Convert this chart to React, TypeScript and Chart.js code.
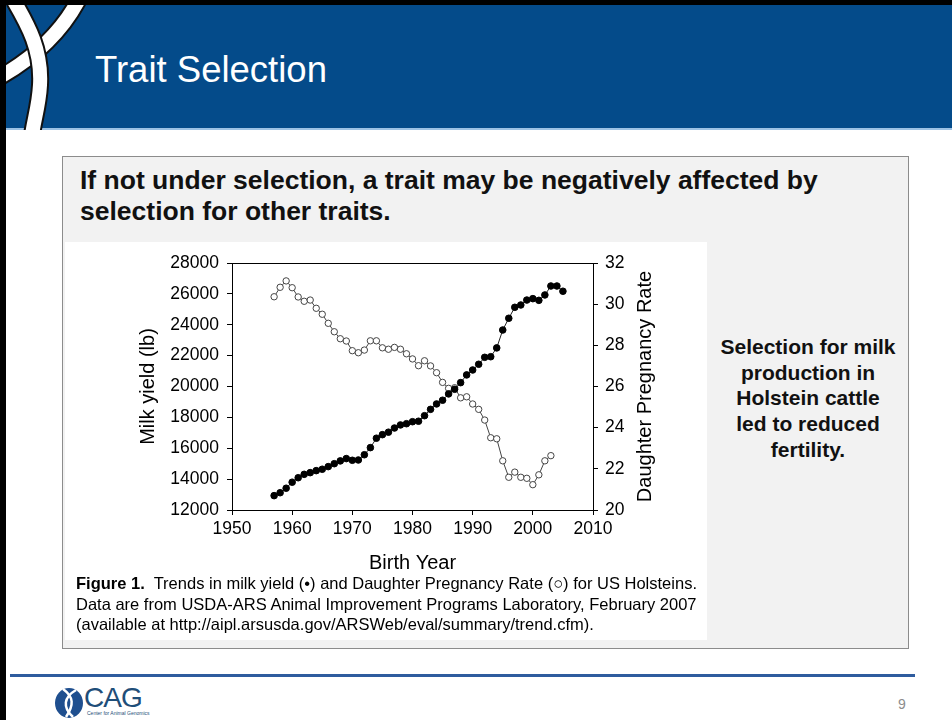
import React, { useEffect, useRef } from "react";
import { Chart, registerables } from "chart.js";

Chart.register(...registerables);

// ---- Data ----
const milkYears = [
  1957, 1958, 1959, 1960, 1961, 1962, 1963, 1964, 1965, 1966,
  1967, 1968, 1969, 1970, 1971, 1972, 1973, 1974, 1975, 1976,
  1977, 1978, 1979, 1980, 1981, 1982, 1983, 1984, 1985, 1986,
  1987, 1988, 1989, 1990, 1991, 1992, 1993, 1994, 1995, 1996,
  1997, 1998, 1999, 2000, 2001, 2002, 2003, 2004, 2005,
];
const milkYield = [
  12930, 13120, 13410, 13800, 14090, 14310, 14420, 14550, 14640, 14810,
  15000, 15180, 15330, 15220, 15240, 15580, 16040, 16650, 16880, 17040,
  17310, 17510, 17590, 17720, 17750, 18110, 18520, 18870, 19110, 19520,
  19820, 20250, 20750, 21070, 21440, 21890, 21930, 22500, 23660, 24420,
  25130, 25280, 25600, 25690, 25580, 25930, 26510, 26510, 26170,
];
const dprYears = [
  1957, 1958, 1959, 1960, 1961, 1962, 1963, 1964, 1965, 1966,
  1967, 1968, 1969, 1970, 1971, 1972, 1973, 1974, 1975, 1976,
  1977, 1978, 1979, 1980, 1981, 1982, 1983, 1984, 1985, 1986,
  1987, 1988, 1989, 1990, 1991, 1992, 1993, 1994, 1995, 1996,
  1997, 1998, 1999, 2000, 2001, 2002, 2003,
];
const dprRate = [
  30.36, 30.82, 31.13, 30.8, 30.35, 30.14, 30.2, 29.8, 29.51, 29.07,
  28.66, 28.32, 28.21, 27.74, 27.64, 27.77, 28.22, 28.22, 27.88, 27.81,
  27.9, 27.81, 27.59, 27.34, 27.01, 27.25, 27.0, 26.67, 26.2, 25.91,
  25.94, 25.45, 25.5, 25.15, 24.89, 24.37, 23.51, 23.46, 22.39, 21.59,
  21.84, 21.59, 21.54, 21.23, 21.71, 22.39, 22.64,
];
const xTicks = { min: 1950, max: 2010, step: 10 };
const milkTicks = { min: 12000, max: 28000, step: 2000 };
const dprTicks = { min: 20, max: 32, step: 2 };
const rightTitle = "Daughter Pregnancy Rate";

const FONT = '"Liberation Sans", Arial, Helvetica, sans-serif';

const framePlugin = {
  id: "topFrame",
  afterDraw(chart: any) {
    const { ctx, chartArea } = chart;
    ctx.save();
    ctx.strokeStyle = "#000";
    ctx.lineWidth = 1;
    ctx.beginPath();
    ctx.moveTo(chartArea.left, Math.round(chartArea.top) + 0.5);
    ctx.lineTo(chartArea.right, Math.round(chartArea.top) + 0.5);
    ctx.stroke();
    // right-axis title, reading bottom-to-top like the reference
    const s = chart.scales.y1;
    ctx.translate(s.right - 12, (chartArea.top + chartArea.bottom) / 2);
    ctx.rotate(-Math.PI / 2);
    ctx.fillStyle = "#000";
    ctx.font = `20px ${FONT}`;
    ctx.textAlign = "center";
    ctx.textBaseline = "middle";
    ctx.fillText(rightTitle, 0, 0);
    ctx.restore();
  },
};

function TrendChart() {
  const ref = useRef<HTMLCanvasElement | null>(null);
  useEffect(() => {
    if (!ref.current) return;
    const tickFont = { family: FONT, size: 17.5 };
    const titleFont = { family: FONT, size: 20 };
    const chart = new Chart(ref.current, {
      type: "scatter",
      data: {
        datasets: [
          {
            label: "Milk yield (lb)",
            data: milkYears.map((x, i) => ({ x, y: milkYield[i] })),
            yAxisID: "y",
            showLine: true,
            borderColor: "#222",
            borderWidth: 1,
            pointRadius: 3.3,
            pointBorderWidth: 1,
            pointBackgroundColor: "#000",
            pointBorderColor: "#000",
          },
          {
            label: "Daughter Pregnancy Rate",
            data: dprYears.map((x, i) => ({ x, y: dprRate[i] })),
            yAxisID: "y1",
            showLine: true,
            borderColor: "#444",
            borderWidth: 1,
            pointRadius: 3.2,
            pointBorderWidth: 1,
            pointBackgroundColor: "#fff",
            pointBorderColor: "#444",
          },
        ],
      },
      options: {
        animation: false,
        responsive: false,
        devicePixelRatio: 1,
        layout: { padding: { left: 71, right: 50, top: 21, bottom: 0 } },
        plugins: { legend: { display: false }, tooltip: { enabled: false } },
        scales: {
          x: {
            type: "linear",
            position: "bottom",
            min: xTicks.min,
            max: xTicks.max,
            ticks: {
              stepSize: xTicks.step,
              color: "#000",
              font: tickFont,
              padding: 4,
              maxRotation: 0,
              callback: (v: any) => String(v),
            },
            grid: { drawOnChartArea: false, drawTicks: true, tickLength: 5, color: "#000" },
            border: { display: true, color: "#000", width: 1 },
            title: {
              display: true,
              text: "Birth Year",
              color: "#000",
              font: titleFont,
              padding: { top: 0, bottom: 1 },
            },
            afterFit: (s: any) => {
              s.height = 66;
            },
          },
          y: {
            type: "linear",
            position: "left",
            min: milkTicks.min,
            max: milkTicks.max,
            ticks: {
              stepSize: milkTicks.step,
              color: "#000",
              font: tickFont,
              padding: 8,
              callback: (v: any) => String(v),
            },
            grid: { drawOnChartArea: false, drawTicks: true, tickLength: 5, color: "#000" },
            border: { display: true, color: "#000", width: 1 },
            title: {
              display: true,
              text: "Milk yield (lb)",
              color: "#000",
              font: titleFont,
              padding: { top: 0, bottom: 0 },
            },
            afterFit: (s: any) => {
              s.width = 96;
            },
          },
          y1: {
            type: "linear",
            position: "right",
            min: dprTicks.min,
            max: dprTicks.max,
            ticks: {
              stepSize: dprTicks.step,
              color: "#000",
              font: tickFont,
              padding: 7,
              callback: (v: any) => String(v),
            },
            grid: { drawOnChartArea: false, drawTicks: true, tickLength: 5, color: "#000" },
            border: { display: true, color: "#000", width: 1 },
            title: { display: false },
            afterFit: (s: any) => {
              s.width = 64;
            },
          },
        },
      },
      plugins: [framePlugin],
    } as any);
    return () => chart.destroy();
  }, []);
  return (
    <canvas
      ref={ref}
      width={642}
      height={334}
      style={{ position: "absolute", left: 65, top: 242, width: 642, height: 334, display: "block" }}
    />
  );
}

export default function App() {
  return (
    <div
      style={{
        position: "fixed",
        left: 0,
        top: 0,
        width: 952,
        height: 720,
        background: "#fff",
        overflow: "hidden",
        fontFamily: FONT,
      }}
    >
      {/* black frame */}
      <div style={{ position: "absolute", left: 0, top: 0, width: 952, height: 5, background: "#000" }} />
      <div style={{ position: "absolute", left: 0, top: 0, width: 6, height: 720, background: "#000" }} />
      {/* header bar */}
      <div style={{ position: "absolute", left: 6, top: 5, width: 946, height: 123, background: "#044b8a" }} />
      <div style={{ position: "absolute", left: 6, top: 128, width: 946, height: 2, background: "#9cc2e5" }} />
      <svg
        width={120}
        height={125}
        viewBox="0 0 120 125"
        style={{ position: "absolute", left: 6, top: 5 }}
      >
        <path d="M 72 -4 C 58 22, 36 48, -6 72" stroke="#111" strokeWidth={18} fill="none" />
        <path d="M 72 -4 C 58 22, 36 48, -6 72" stroke="#fff" strokeWidth={14} fill="none" />
        <path d="M 8 -4 C 22 20, 36 45, 34 80 C 33 100, 28 115, 26 130" stroke="#111" strokeWidth={18} fill="none" />
        <path d="M 8 -4 C 22 20, 36 45, 34 80 C 33 100, 28 115, 26 130" stroke="#fff" strokeWidth={14} fill="none" />
      </svg>
      <div
        style={{
          position: "absolute",
          left: 95,
          top: 52,
          fontSize: 36.5,
          lineHeight: 1,
          color: "#fff",
          whiteSpace: "nowrap",
        }}
      >
        Trait Selection
      </div>

      {/* grey content box */}
      <div
        style={{
          position: "absolute",
          left: 62,
          top: 156,
          width: 845,
          height: 491,
          background: "#f2f2f2",
          border: "1px solid #8c8c8c",
        }}
      />
      <div
        style={{
          position: "absolute",
          left: 80,
          top: 165,
          width: 780,
          fontSize: 26.5,
          fontWeight: "bold",
          lineHeight: "31px",
          color: "#111",
        }}
      >
        If not under selection, a trait may be negatively affected by
        <br />
        selection for other traits.
      </div>

      {/* figure area */}
      <div style={{ position: "absolute", left: 65, top: 242, width: 642, height: 398, background: "#fff" }} />
      <TrendChart />
      <div
        style={{
          position: "absolute",
          left: 76,
          top: 573,
          fontSize: 16.5,
          lineHeight: "20.5px",
          color: "#000",
          whiteSpace: "nowrap",
        }}
      >
        <b>Figure 1.</b>&nbsp; Trends in milk yield (•) and Daughter Pregnancy Rate (○) for US Holsteins.
        <br />
        Data are from USDA-ARS Animal Improvement Programs Laboratory, February 2007
        <br />
        (available at http://aipl.arsusda.gov/ARSWeb/eval/summary/trend.cfm).
      </div>

      {/* side note */}
      <div
        style={{
          position: "absolute",
          left: 708,
          top: 334,
          width: 200,
          textAlign: "center",
          fontSize: 21,
          fontWeight: "bold",
          lineHeight: "25.7px",
          color: "#111",
        }}
      >
        Selection for milk
        <br />
        production in
        <br />
        Holstein cattle
        <br />
        led to reduced
        <br />
        fertility.
      </div>

      {/* footer */}
      <div style={{ position: "absolute", left: 10, top: 674, width: 905, height: 3, background: "#2f5c9e" }} />
      <svg width={30} height={32} viewBox="0 0 30 32" style={{ position: "absolute", left: 54, top: 687 }}>
        <ellipse cx={15} cy={16} rx={14} ry={15} fill="#1f4f8f" />
        <path d="M 9 2 C 20 10, 20 18, 12 30" stroke="#fff" strokeWidth={2.5} fill="none" />
        <path d="M 22 3 C 10 10, 8 20, 19 30" stroke="#fff" strokeWidth={2.5} fill="none" />
      </svg>
      <div
        style={{
          position: "absolute",
          left: 84,
          top: 684,
          fontSize: 28,
          lineHeight: 1,
          color: "#1f4e79",
          letterSpacing: -1,
        }}
      >
        CAG
      </div>
      <div
        style={{
          position: "absolute",
          left: 87,
          top: 711,
          fontSize: 5,
          lineHeight: 1,
          color: "#1f4e79",
          whiteSpace: "nowrap",
        }}
      >
        Center for Animal Genomics
      </div>
      <div
        style={{
          position: "absolute",
          left: 898,
          top: 697,
          fontSize: 14,
          lineHeight: 1,
          color: "#8c8c8c",
        }}
      >
        9
      </div>
    </div>
  );
}
